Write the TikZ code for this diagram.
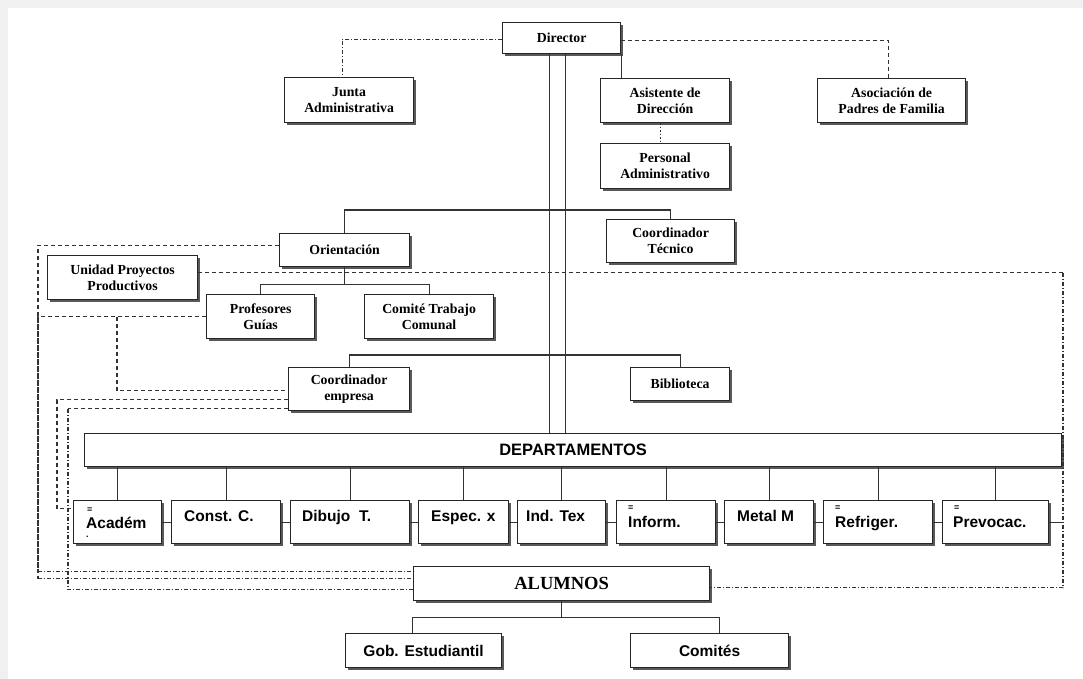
\documentclass[tikz,border=0pt]{standalone}
\usepackage{fontspec}
\setmainfont{Liberation Serif}
\setsansfont{Liberation Sans}
\usetikzlibrary{shadows,calc}

\begin{document}
\begin{tikzpicture}[x=1pt,y=-1pt,
 box/.style={draw=black!85, line width=1.2pt, fill=white, inner sep=0pt, anchor=north west, align=center,
   drop shadow={shadow xshift=2.5pt, shadow yshift=-2.5pt, fill=black!65, opacity=1}},
 serif/.style={font=\bfseries\fontsize{13.8}{16}\selectfont},
 sans/.style={font=\sffamily\bfseries\fontsize{15.5}{17}\selectfont},
 lbl/.style={sans, anchor=base west, inner sep=0pt},
 mk/.style={font=\sffamily\bfseries\fontsize{9}{9}\selectfont, anchor=base west, inner sep=0pt},
 ln/.style={draw=black!80, line width=1.1pt},
 dsh/.style={draw=black!80, line width=1.1pt, dash pattern=on 4pt off 3pt},
 dshdot/.style={draw=black!80, line width=1.1pt, dash pattern=on 4pt off 2pt on 1pt off 2pt},
 dotl/.style={draw=black!80, line width=1.1pt, dash pattern=on 1.5pt off 2pt},
]
% background
\fill[black!6] (0,0) rectangle (1083,679);
\fill[white] (8,8) rectangle (1083,679);
\useasboundingbox (0,0) rectangle (1083,679);

% top level
\node[box, serif, minimum width=118pt, minimum height=31pt] (dir) at (502,22) {Director};
\node[box, serif, minimum width=129pt, minimum height=45pt] (junta) at (284,77) {Junta\\Administrativa};
\node[box, serif, minimum width=129pt, minimum height=44pt] (asist) at (600,78) {Asistente de\\Dirección};
\node[box, serif, minimum width=148pt, minimum height=44pt] (asoc) at (817,78) {Asociación de\\Padres de Familia};
\node[box, serif, minimum width=129pt, minimum height=45pt] (pers) at (600,143) {Personal\\Administrativo};
\node[box, serif, minimum width=128pt, minimum height=43pt] (coordt) at (606,219) {Coordinador\\Técnico};
\node[box, serif, minimum width=130pt, minimum height=33pt] (orient) at (279,233) {Orientación};
\node[box, serif, minimum width=150pt, minimum height=44pt] (unidad) at (47,255) {Unidad Proyectos\\Productivos};
\node[box, serif, minimum width=108pt, minimum height=44pt] (prof) at (206,294) {Profesores\\Guías};
\node[box, serif, minimum width=129pt, minimum height=44pt] (comite) at (364,294) {Comité Trabajo\\Comunal};
\node[box, serif, minimum width=121pt, minimum height=43pt] (coorde) at (288,367) {Coordinador\\empresa};
\node[box, serif, minimum width=99pt, minimum height=33pt] (biblio) at (630,367) {Biblioteca};
\node[box, font=\sffamily\bfseries\fontsize{16.5}{18}\selectfont, minimum width=977pt, minimum height=33pt] (dep) at (84,433) {DEPARTAMENTOS};

% departments
\node[box, minimum width=88pt, minimum height=43pt] (acad) at (73,500) {};
\node[box, minimum width=109pt, minimum height=43pt] (const) at (171,500) {};
\node[box, minimum width=119pt, minimum height=43pt] (dib) at (290,500) {};
\node[box, minimum width=90pt, minimum height=43pt] (espec) at (418,500) {};
\node[box, minimum width=88pt, minimum height=43pt] (indt) at (517,500) {};
\node[box, minimum width=99pt, minimum height=43pt] (inform) at (616,500) {};
\node[box, minimum width=89pt, minimum height=43pt] (metal) at (724,500) {};
\node[box, minimum width=109pt, minimum height=43pt] (refr) at (823,500) {};
\node[box, minimum width=106pt, minimum height=43pt] (prev) at (942,500) {};

\node[lbl] (tacad) at ($(acad.north west)+(13,28)$) {Académ};
\node[mk] (macad) at ($(acad.north west)+(14,12)$) {≡};
\node[mk] (pacad) at ($(acad.north west)+(13,37)$) {.};
\node[lbl] (tconst) at ($(const.north west)+(13,21)$) {Const. C.};
\node[lbl] (tdib) at ($(dib.north west)+(12,21)$) {Dibujo\ \ T.};
\node[lbl] (tespec) at ($(espec.north west)+(13,21)$) {Espec. x};
\node[lbl] (tindt) at ($(indt.north west)+(9,21)$) {Ind. Tex};
\node[lbl] (tinform) at ($(inform.north west)+(12,27)$) {Inform.};
\node[mk] (minform) at ($(inform.north west)+(12,10)$) {=};
\node[lbl] (tmetal) at ($(metal.north west)+(13,21)$) {Metal M};
\node[lbl] (trefr) at ($(refr.north west)+(12,27)$) {Refriger.};
\node[mk] (mrefr) at ($(refr.north west)+(12,10)$) {=};
\node[lbl] (tprev) at ($(prev.north west)+(11,27)$) {Prevocac.};
\node[mk] (mprev) at ($(prev.north west)+(12,10)$) {=};

% students
\node[box, font=\bfseries\fontsize{18.5}{20}\selectfont, minimum width=296pt, minimum height=34pt] (alumnos) at (413,566) {ALUMNOS};
\node[box, sans, minimum width=156pt, minimum height=34pt] (gob) at (345,633) {Gob. Estudiantil};
\node[box, sans, minimum width=158pt, minimum height=34pt] (comites) at (630,633) {Comités};

% helper coordinates
\coordinate (rx) at (1063,0);
\coordinate (lx1) at (38,0);
\coordinate (lx2) at (57,0);
\coordinate (lx3) at (68,0);
\coordinate (bx) at (117,0);

% top connectors
\draw[dshdot] ($(dir.west)+(0,1)$) -| ($(junta.north)+(-7,0)$);
\draw[dsh] ($(dir.east)+(0,2)$) -| ($(asoc.north)+(-3,0)$);
\draw[ln] (dir.south east) -- (dir.south east |- asist.north);
\draw[dotl] ($(asist.south)+(-5,0)$) -- ($(pers.north)+(-5,0)$);
\coordinate (v1) at ($(dir.south)+(-12,0)$);
\coordinate (v2) at ($(dir.south)+(4,0)$);
\draw[ln] (v1) -- (v1 |- dep.north);
\draw[ln] (v2) -- (v2 |- dep.north);
\draw[ln] (orient.north) -- ++(0,-23) -| (coordt.north);
\draw[ln] (orient.south) -- ++(0,17) coordinate (oy);
\draw[ln] (prof.north) -- (prof.north |- oy) -- (comite.north |- oy) -- (comite.north);
\draw[ln] (coorde.north) -- ++(0,-12) -| (biblio.north);

% dashed right loop
\coordinate (u1) at ($(unidad.east)+(0,-5)$);
\coordinate (a1) at ($(alumnos.east)+(0,4)$);
\draw[dsh] (u1) -- (u1 -| rx);
\draw[dshdot] (u1 -| rx) -- (a1 -| rx) -- (a1);

% dashed left loops
\coordinate (o1) at ($(orient.west)+(0,-5)$);
\coordinate (a2) at ($(alumnos.west)+(0,-12)$);
\coordinate (a3) at ($(alumnos.west)+(0,-5)$);
\coordinate (a4) at ($(alumnos.west)+(0,6)$);
\draw[dsh] (o1) -- (o1 -| lx1) -- (a2 -| lx1);
\draw[dshdot] (a2 -| lx1) -- (a2);
\draw[dsh] (prof.west) -- (prof.west -| lx1) -- (a3 -| lx1);
\draw[dshdot] (a3 -| lx1) -- (a3);
\coordinate (c1) at ($(coorde.west)+(0,1.5)$);
\draw[dsh] (prof.west -| bx) -- (c1 -| bx) -- (c1);
\coordinate (c2) at ($(coorde.west)+(0,10.5)$);
\coordinate (k1) at ($(acad.west)+(0,-13.5)$);
\draw[dsh] (c2) -- (c2 -| lx2) -- (k1 -| lx2) -- (k1);
\coordinate (c3) at ($(coorde.west)+(0,19.5)$);
\draw[dsh] (c3) -- (c3 -| lx3);
\draw[dshdot] (c3 -| lx3) -- (a4 -| lx3) -- (a4);

% department stems and links
\foreach \d in {acad,const,dib,espec,indt,inform,metal,refr,prev}{
  \draw[ln] (\d.north) -- (\d.north |- dep.south);
}
\draw[ln] (acad.east) -- (const.west);
\draw[ln] (const.east) -- (dib.west);
\draw[ln] (dib.east) -- (espec.west);
\draw[ln] (espec.east) -- (indt.west);
\draw[ln] (indt.east) -- (inform.west);
\draw[ln] (inform.east) -- (metal.west);
\draw[ln] (metal.east) -- (refr.west);
\draw[ln] (refr.east) -- (prev.west);
\draw[ln] (prev.east) -- (prev.east -| rx);

% students connectors
\coordinate (g1) at ($(gob.north)+(-11,0)$);
\coordinate (m1) at ($(comites.north)+(10,0)$);
\draw[ln] (alumnos.south) -- ++(0,16) coordinate (ay);
\draw[ln] (g1) -- (g1 |- ay) -- (m1 |- ay) -- (m1);
\end{tikzpicture}
\end{document}
